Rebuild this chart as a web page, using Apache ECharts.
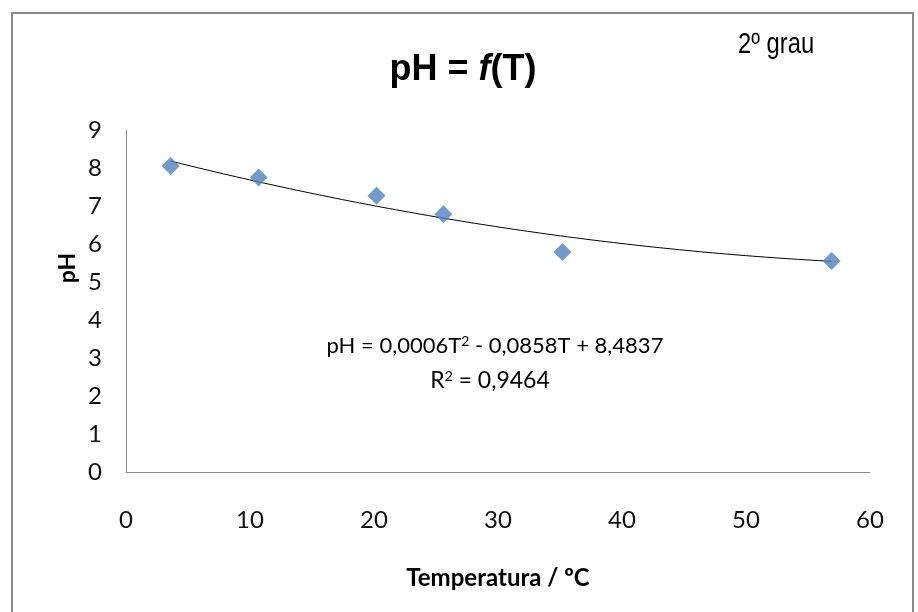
<!DOCTYPE html>
<html>
<head>
<meta charset="utf-8">
<script src="https://cdn.jsdelivr.net/npm/echarts@6/dist/echarts.min.js"></script>
<style>html,body{margin:0;padding:0;background:#fff}#c{width:918px;height:612px}</style>
</head>
<body>
<div id="c"></div>
<script>
// Data
var temperatures = [3.6, 10.7, 20.2, 25.6, 35.2, 56.9];
var phValues = [8.05, 7.75, 7.27, 6.78, 5.79, 5.55];
// Trendline coefficients as printed on the chart: pH = a*T^2 + b*T + c
var trendCoefficients = [0.0006, -0.0858, 8.4837];
var xTicks = [0, 10, 20, 30, 40, 50, 60];
var yTicks = [0, 1, 2, 3, 4, 5, 6, 7, 8, 9];

var scatterData = temperatures.map(function (t, i) { return [t, phValues[i]]; });
var tMin = Math.min.apply(null, temperatures), tMax = Math.max.apply(null, temperatures);
var trendData = [];
for (var k = 0; k <= 100; k++) {
  var t = tMin + (tMax - tMin) * k / 100;
  trendData.push([t, trendCoefficients[0] * t * t + trendCoefficients[1] * t + trendCoefficients[2]]);
}

var labelFont = 'Lato, "Open Sans", sans-serif';
var arial = '"Liberation Sans", Arial, sans-serif';
var chart = echarts.init(document.getElementById('c'), null, { renderer: 'canvas' });
chart.setOption({
  animation: false,
  backgroundColor: '#fff',
  grid: { left: 126, right: 48, top: 130, bottom: 140, containLabel: false },
  xAxis: {
    type: 'value', min: xTicks[0], max: xTicks[xTicks.length - 1], interval: 10,
    name: 'Temperatura / ºC', nameLocation: 'middle', nameGap: 94,
    nameTextStyle: { fontFamily: labelFont, fontSize: 24, fontWeight: 'bold', color: '#000' },
    axisLine: { lineStyle: { color: '#8c8c8c', width: 1 } },
    axisTick: { show: false },
    splitLine: { show: false },
    axisLabel: { margin: 36, fontFamily: labelFont, fontSize: 24, color: '#111' }
  },
  yAxis: {
    type: 'value', min: yTicks[0], max: yTicks[yTicks.length - 1], interval: 1,
    axisLine: { show: true, lineStyle: { color: '#8c8c8c', width: 1 } },
    axisTick: { show: false },
    splitLine: { show: false },
    axisLabel: { margin: 24, fontFamily: labelFont, fontSize: 24, color: '#111' }
  },
  graphic: [
    { type: 'rect', shape: { x: 12, y: 13, width: 901, height: 640 },
      style: { fill: null, stroke: '#8a8a8a', lineWidth: 2 }, silent: true },
    { type: 'text', x: 463, y: 70, silent: true,
      style: { text: 'pH = {i|f}(T)', align: 'center', verticalAlign: 'middle',
        font: 'bold 36px ' + arial, fill: '#000',
        rich: { i: { fontFamily: arial, fontSize: 36, fontWeight: 'bold', fontStyle: 'italic', fill: '#000' } } } },
    { type: 'text', x: 738, y: 45, scaleX: 0.82, silent: true,
      style: { text: '2º grau', align: 'left', verticalAlign: 'middle',
        font: '29px ' + arial, fill: '#000' } },
    { type: 'text', x: 68, y: 268, rotation: Math.PI / 2, silent: true,
      style: { text: 'pH', align: 'center', verticalAlign: 'middle',
        font: 'bold 23px ' + labelFont, fill: '#000' } },
    { type: 'text', x: 495, y: 346, silent: true,
      style: { text: 'pH = 0,0006T{s|2} - 0,0858T + 8,4837', align: 'center', verticalAlign: 'middle',
        font: '22px ' + labelFont, fill: '#000',
        rich: { s: { fontFamily: labelFont, fontSize: 14, verticalAlign: 'top', padding: [0, 0, 9, 0], fill: '#000' } } } },
    { type: 'text', x: 490, y: 381, silent: true,
      style: { text: 'R{s|2} = 0,9464', align: 'center', verticalAlign: 'middle',
        font: '23px ' + labelFont, fill: '#000',
        rich: { s: { fontFamily: labelFont, fontSize: 14, verticalAlign: 'top', padding: [0, 0, 9, 0], fill: '#000' } } } }
  ],
  series: [
    { type: 'line', data: trendData, showSymbol: false, smooth: false,
      lineStyle: { color: '#000', width: 1 }, z: 2 },
    { type: 'scatter', data: scatterData, symbol: 'diamond', symbolSize: [18, 18],
      itemStyle: { color: '#4F81BD' }, z: 3 }
  ]
});
</script>
</body>
</html>
